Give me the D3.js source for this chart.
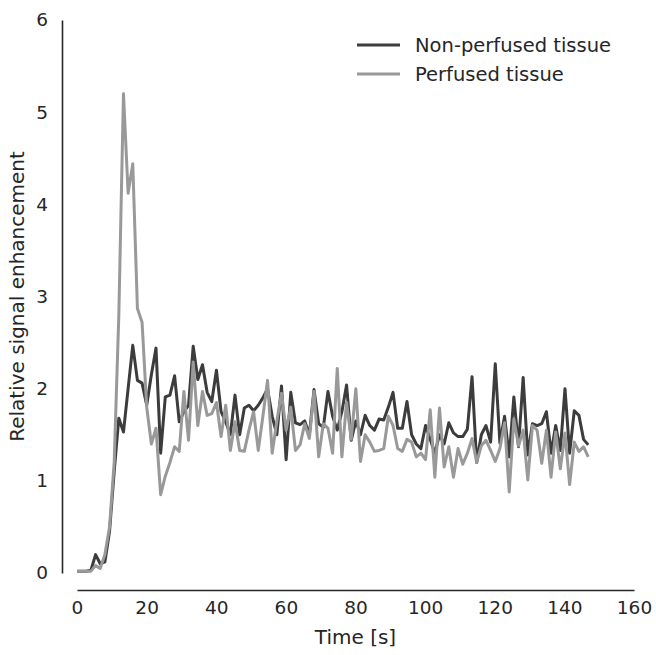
<!DOCTYPE html>
<html lang="en">
<head>
	<meta charset="UTF-8">
	<title>Relative signal enhancement</title>
	<script src="https://cdn.jsdelivr.net/npm/d3@7"></script>
	<style>
		body {
			margin: 0;
			background: #fff;
		}

		svg text {
			font-family: "DejaVu Sans", sans-serif;
			fill: #262626;
		}
	</style>
</head>
<body>
<div id="viz"></div>

<script type="text/javascript">
	// sample interval of the acquisition, seconds
	const dt = 1.335;

	const seriesNames = ['Non-perfused tissue', 'Perfused tissue'];

	const nonPerfused = [
		0.02, 0.02, 0.02, 0.03, 0.2, 0.1, 0.12, 0.45, 1.1, 1.68,
		1.53, 2.0, 2.47, 2.09, 2.06, 1.82, 2.15, 2.44, 1.3, 1.91,
		1.93, 2.14, 1.64, 1.75, 1.82, 2.46, 2.1, 2.26, 1.96, 1.86,
		2.2, 1.75, 1.64, 1.5, 1.93, 1.5, 1.79, 1.82, 1.76, 1.82,
		1.9, 2.0, 1.7, 1.5, 2.03, 1.23, 1.96, 1.63, 1.61, 1.65,
		1.5, 1.99, 1.62, 1.58, 1.97, 1.7, 1.55, 1.75, 2.04, 1.44,
		1.65, 1.5, 1.71, 1.6, 1.55, 1.67, 1.66, 1.8, 1.96, 1.57,
		1.57, 1.86, 1.5, 1.4, 1.35, 1.6, 1.45, 1.3, 1.5, 1.4,
		1.63, 1.52, 1.48, 1.48, 1.56, 2.13, 1.2, 1.5, 1.6, 1.42,
		2.27, 1.41, 1.7, 1.26, 1.91, 1.37, 2.12, 1.28, 1.62, 1.6,
		1.62, 1.75, 1.3, 1.6, 1.33, 2.0, 1.3, 1.76, 1.71, 1.45,
		1.39
	];

	const perfused = [
		0.02, 0.02, 0.02, 0.02, 0.08, 0.05, 0.2, 0.5, 1.2, 2.8,
		5.2, 4.12, 4.44, 2.87, 2.72, 1.8, 1.4, 1.57, 0.85, 1.05,
		1.2, 1.37, 1.32, 1.97, 1.44, 2.29, 1.6, 1.97, 1.71, 1.73,
		1.85, 1.48, 1.82, 1.33, 1.64, 1.33, 1.32, 1.55, 1.75, 1.33,
		1.7, 2.09, 1.3, 1.65, 1.95, 1.55, 1.8, 1.33, 1.39, 1.62,
		1.46, 1.97, 1.26, 1.62, 1.57, 1.3, 2.22, 1.26, 1.85, 1.45,
		2.0, 1.21, 1.5, 1.42, 1.32, 1.33, 1.35, 1.7, 1.6, 1.35,
		1.32, 1.45, 1.42, 1.26, 1.3, 1.23, 1.77, 1.04, 1.79, 1.15,
		1.37, 1.04, 1.35, 1.18, 1.3, 1.46, 1.2, 1.38, 1.44, 1.33,
		1.21, 1.35, 1.63, 0.88, 1.67, 1.38, 1.55, 1.01, 1.6, 1.55,
		1.19, 1.55, 1.04, 1.53, 1.13, 1.52, 0.96, 1.42, 1.32, 1.37,
		1.26
	];

	const xTicks = [0, 20, 40, 60, 80, 100, 120, 140, 160];
	const yTicks = [0, 1, 2, 3, 4, 5, 6];

	const colors = ['#3c3c3c', '#999999'];

	const width = 656,
		height = 655;

	let svg = d3.select('#viz')
		.append('svg')
		.attr('width', width)
		.attr('height', height);

	let x = d3.scaleLinear()
		.domain([0, 160])
		.range([77, 634]);

	let y = d3.scaleLinear()
		.domain([0, 6])
		.range([573, 20]);

	// y axis, offset to the left of the data
	let gy = svg.append('g')
		.attr('transform', 'translate(62,0)')
		.call(d3.axisLeft(y).tickValues(yTicks).tickFormat(d3.format('d'))
			.tickSize(0).tickSizeOuter(0).tickPadding(14));

	// x axis, offset below the data
	let gx = svg.append('g')
		.attr('transform', 'translate(0,590)')
		.call(d3.axisBottom(x).tickValues(xTicks).tickFormat(d3.format('d'))
			.tickSize(0).tickSizeOuter(0).tickPadding(11));

	[gx, gy].forEach((g) => {
		g.select('.domain')
			.attr('stroke', '#262626')
			.attr('stroke-width', 1.6);
		g.selectAll('text')
			.style('font-size', '18.5px')
			.attr('fill', '#262626');
	});

	svg.append('text')
		.attr('x', (x(0) + x(160)) / 2)
		.attr('y', 644)
		.attr('text-anchor', 'middle')
		.style('font-size', '20px')
		.text('Time [s]');

	svg.append('text')
		.attr('transform', 'translate(24,' + ((y(0) + y(6)) / 2) + ') rotate(-90)')
		.attr('text-anchor', 'middle')
		.style('font-size', '20px')
		.text('Relative signal enhancement');

	let line = d3.line()
		.x((d, i) => x(i * dt))
		.y((d) => y(d));

	[nonPerfused, perfused].forEach((s, k) => {
		svg.append('path')
			.datum(s)
			.attr('fill', 'none')
			.attr('stroke', colors[k])
			.attr('stroke-width', 3)
			.attr('stroke-linejoin', 'round')
			.attr('d', line);
	});

	// legend
	let legend = svg.append('g')
		.selectAll('g')
		.data(seriesNames)
		.enter().append('g')
		.attr('transform', (d, i) => 'translate(357,' + (45 + i * 29) + ')');

	legend.append('line')
		.attr('x1', 0)
		.attr('x2', 43)
		.attr('stroke', (d, i) => colors[i])
		.attr('stroke-width', 3);

	legend.append('text')
		.attr('x', 58)
		.attr('dy', '0.35em')
		.style('font-size', '19.5px')
		.text((d) => d);
</script>
</body>
</html>
